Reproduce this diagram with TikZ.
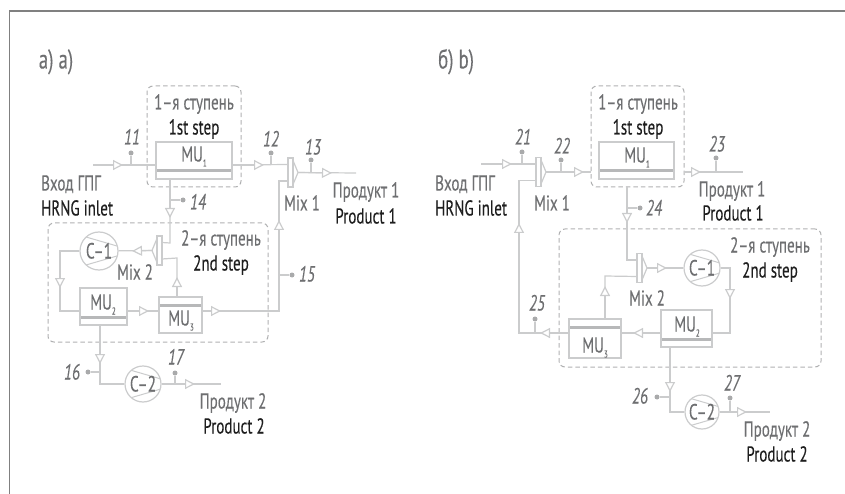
\documentclass[tikz,border=0pt]{standalone}
\usepackage{fontspec}
\setmainfont{PT Sans}[FakeStretch=0.7, FakeBold=0.15]
\usepackage{xcolor}
\usetikzlibrary{arrows.meta, positioning, calc}
\definecolor{pipegray}{HTML}{CBCCCD}
\definecolor{bargray}{HTML}{B7B8B9}
\definecolor{dotgray}{HTML}{A9AAAB}
\definecolor{dashgray}{HTML}{B0B1B2}
\definecolor{textgray}{HTML}{6E6F71}
\definecolor{textdark}{HTML}{1E1E1E}
\newcommand{\musub}[1]{MU\raisebox{-5pt}{\fontsize{10}{10}\selectfont #1}}
\tikzset{
  pipe/.style={draw=pipegray, line width=1.2pt},
  flow/.style={draw=pipegray, line width=1.2pt, -{Triangle[open, fill=white, length=10pt, width=10pt]}},
  stepbox/.style={draw=dashgray, dash pattern=on 4.5pt off 3pt, line width=1pt, rounded corners=6pt, inner sep=0pt},
  mubox/.style={draw=pipegray, fill=white, line width=1.2pt, inner sep=0pt},
  barlow/.style={mubox, path picture={\fill[bargray] ([yshift=6.5pt]path picture bounding box.south west) rectangle ([yshift=9.5pt]path picture bounding box.south east);}},
  barhigh/.style={mubox, path picture={\fill[bargray] ([yshift=-6.5pt]path picture bounding box.north west) rectangle ([yshift=-9.5pt]path picture bounding box.north east);}},
  compr/.style={circle, draw=pipegray, fill=white, line width=1.2pt, minimum size=#1, inner sep=0pt, text=textgray,
    font=\fontsize{22}{24}\selectfont, text height=15pt, text depth=0pt,
    path picture={
      \draw[pipegray, line width=1pt] ($(path picture bounding box.center)+(-13pt,14pt)$) -- ($(path picture bounding box.center)+(18pt,5pt)$);
      \draw[pipegray, line width=1pt] ($(path picture bounding box.center)+(-13pt,-14pt)$) -- ($(path picture bounding box.center)+(18pt,-5pt)$);}},
  probe/.style={circle, fill=dotgray, inner sep=0pt, minimum size=5pt},
  ru/.style={text=textgray, inner sep=0pt, text height=15pt, text depth=0pt, font=\fontsize{21.5}{24}\selectfont},
  en/.style={text=textdark, inner sep=0pt, text height=15pt, text depth=0pt, font=\fontsize{21.5}{24}\selectfont},
  num/.style={text=textgray, inner sep=0pt, text height=15pt, text depth=0pt, font=\fontsize{22}{24}\selectfont\itshape},
  mix/.pic={
    \draw[pipegray, fill=white, line width=1.2pt] (5,-12) -- (10,0) -- (5,12) -- cycle;
    \draw[pipegray, fill=white, line width=1.2pt] (0,-14.5) rectangle (5,14.5);
    \coordinate (-in1) at (0,-8);
    \coordinate (-in2) at (0,8.5);
    \coordinate (-out) at (10,0);
  },
}
\begin{document}
\begin{tikzpicture}[x=1pt, y=-1pt]
\useasboundingbox (0,0) rectangle (845,494);
\draw[gray, line width=1.5pt] (9.5,494) -- (9.5,11) -- (845,11);

% scheme a
\node[ru, font=\fontsize{27}{30}\selectfont, text height=19pt] (titlea) at (56,59) {а) a)};
\node[stepbox, minimum width=94pt, minimum height=101pt] (stepa1) at (194,136.5) {};
\node[stepbox, minimum width=220pt, minimum height=119pt] (stepa2) at (158,282.5) {};
\node[ru] (stepa1ru) at (194,102) {1–я ступень};
\node[en] (stepa1en) at (194,127) {1st step};
\node[ru] (stepa2ru) at (221,238) {2–я ступень};
\node[en] (stepa2en) at (221,263) {2nd step};

\coordinate (ina) at (93,165);
\coordinate (outa1) at (356,173);
\coordinate (turna14) at (170,243);
\coordinate (turna15) at (279,311);
\coordinate (turnamu3) at (177,258);
\coordinate (turna1) at (60,251);
\coordinate (turna2) at (60,311);
\coordinate (turna16) at (100,384);
\coordinate (outa2) at (221,384);
\coordinate (tipa1) at (123,165);
\coordinate (tipa2) at (264,165);
\coordinate (tipa3) at (332,173);
\coordinate (tipa4) at (170,218);
\coordinate (tipa5) at (132,251);
\coordinate (tipa6) at (60,288);
\coordinate (tipa7) at (149,311);
\coordinate (tipa8) at (177,277);
\coordinate (tipa9) at (221,311);
\coordinate (tipa10) at (279,220);
\coordinate (tipa11) at (100,364);
\coordinate (tipa12) at (195,384);

\node[barlow, minimum width=76pt, minimum height=37pt] (mua1) at (194,160.5) {};
\node[barlow, minimum width=47pt, minimum height=37pt] (mua2) at (103.5,306.5) {};
\node[barhigh, minimum width=43pt, minimum height=36pt] (mua3) at (180.5,315) {};
\node[ru] (mua1t) at (194,154) {\musub{1}};
\node[ru] (mua2t) at (103,302) {\musub{2}};
\node[ru] (mua3t) at (181,318) {\musub{3}};
\pic (mixa1) at (288,172.5) {mix};
\pic[xscale=-1] (mixa2) at (162,250.5) {mix};
\node[compr=38pt] (ca1) at (99,251) {C–1};
\node[compr=36pt] (ca2) at (143,384) {C–2};

\draw[pipe] (ina) -- (ina -| mua1.west);
\draw[pipe] (ina -| mua1.east) -- (mixa1-in1);
\draw[pipe] (mixa1-out) -- (outa1);
\draw[pipe] (mua1.south -| turna14) -- (turna14) -- (mixa2-in1);
\draw[pipe] (mua3.north -| turnamu3) -- (turnamu3) -- (mixa2-in2);
\draw[pipe] (mixa2-out) -- (ca1);
\draw[pipe] (ca1) -- (turna1) -- (turna2) -- (turna2 -| mua2.west);
\draw[pipe] (turna2 -| mua2.east) -- (turna2 -| mua3.west);
\draw[pipe] (turna2 -| mua3.east) -- (turna15) -- (mixa1-in2 -| turna15) -- (mixa1-in2);
\draw[pipe] (mua2.south -| turna16) -- (turna16) -- (ca2);
\draw[pipe] (ca2) -- (outa2);

% probes: name / x on pipe / y on pipe / x of dot / y of dot / x of number / y of number
\foreach \n/\xa/\ya/\xb/\yb/\xc/\yc in {11/131/165/131/153/132/137, 12/271/165/271/153/271/139, 13/311/173/311/160/313/147, 14/170/200/183/200/198/202, 15/279/275/292/275/307/274, 16/100/372/88/372/72/372, 17/175/384/175/373/176/357}{
  \coordinate (j\n) at (\xa,\ya);
  \node[probe] (p\n) at (\xb,\yb) {};
  \draw[pipe] (j\n) -- (p\n);
  \node[num] (n\n) at (\xc,\yc) {\n};
}

\draw[flow] (ina) -- (tipa1);
\draw[flow] (ina -| mua1.east) -- (tipa2);
\draw[flow] (mixa1-out) -- (tipa3);
\draw[flow] (mua1.south -| turna14) -- (tipa4);
\draw[flow] (mixa2-out) -- (tipa5);
\draw[flow] (turna1) -- (tipa6);
\draw[flow] (turna2 -| mua2.east) -- (tipa7);
\draw[flow] (mua3.north -| turnamu3) -- (tipa8);
\draw[flow] (turna2 -| mua3.east) -- (tipa9);
\draw[flow] (turna15) -- (tipa10);
\draw[flow] (mua2.south -| turna16) -- (tipa11);
\draw[flow] (ca2) -- (tipa12);

\node[ru, anchor=west] (ina1) at (41,183) {Вход ГПГ};
\node[en, anchor=west] (ina2) at (41,208) {HRNG inlet};
\node[ru] (proda1) at (366,190) {Продукт 1};
\node[en] (proda1en) at (366,216) {Product 1};
\node[ru] (proda2) at (233,401) {Продукт 2};
\node[en] (proda2en) at (234,426) {Product 2};
\node[ru] (mixa1t) at (302,203) {Mix 1};
\node[ru] (mixa2t) at (135,272) {Mix 2};

% scheme b
\node[ru, font=\fontsize{27}{30}\selectfont, text height=19pt] (titleb) at (456,59) {б) b)};
\node[stepbox, minimum width=93pt, minimum height=101pt] (stepb1) at (637.5,136.5) {};
\node[stepbox, minimum width=262pt, minimum height=138pt] (stepb2) at (690,298) {};
\node[ru] (stepb1ru) at (638,102) {1–я ступень};
\node[en] (stepb1en) at (638,127) {1st step};
\node[ru] (stepb2ru) at (770,245) {2–я ступень};
\node[en] (stepb2en) at (770,270) {2nd step};

\coordinate (inb) at (481,164);
\coordinate (outb1) at (743,172);
\coordinate (turnb25) at (519,333);
\coordinate (turnb24) at (627,260);
\coordinate (turnbmu3) at (605,276);
\coordinate (turnb1) at (730,268);
\coordinate (turnb2) at (730,333);
\coordinate (turnb26) at (670,412);
\coordinate (outb2) at (770,412);
\coordinate (tipb1) at (512,164);
\coordinate (tipb2) at (584,172);
\coordinate (tipb3) at (701,172);
\coordinate (tipb4) at (627,223);
\coordinate (tipb5) at (667,268);
\coordinate (tipb6) at (730,299);
\coordinate (tipb7) at (633,333);
\coordinate (tipb8) at (605,286);
\coordinate (tipb9) at (540,333);
\coordinate (tipb10) at (519,223);
\coordinate (tipb11) at (670,392);
\coordinate (tipb12) at (747,412);

\node[barlow, minimum width=75pt, minimum height=37pt] (mub1) at (636.5,160.5) {};
\node[barlow, minimum width=51pt, minimum height=37pt] (mub2) at (686.5,328.5) {};
\node[barhigh, minimum width=52pt, minimum height=39pt] (mub3) at (595,338.5) {};
\node[ru] (mub1t) at (637,155) {\musub{1}};
\node[ru] (mub2t) at (687,324) {\musub{2}};
\node[ru] (mub3t) at (595,345) {\musub{3}};
\pic (mixb1) at (536,172) {mix};
\pic (mixb2) at (637,268) {mix};
\node[compr=36pt] (cb1) at (702,268) {C–1};
\node[compr=34pt] (cb2) at (702,412) {C–2};

\draw[pipe] (inb) -- (mixb1-in1);
\draw[pipe] (mixb1-out) -- (mixb1-out -| stepb1.west);
\draw[pipe] (outb1 -| stepb1.east) -- (outb1);
\draw[pipe] (stepb1.south -| turnb24) -- (turnb24) -- (mixb2-in1);
\draw[pipe] (mub3.north -| turnbmu3) -- (turnbmu3) -- (mixb2-in2);
\draw[pipe] (mixb2-out) -- (cb1);
\draw[pipe] (cb1) -- (turnb1) -- (turnb2) -- (turnb2 -| mub2.east);
\draw[pipe] (turnb2 -| mub2.west) -- (turnb2 -| mub3.east);
\draw[pipe] (turnb2 -| mub3.west) -- (turnb25) -- (mixb1-in2 -| turnb25) -- (mixb1-in2);
\draw[pipe] (mub2.south -| turnb26) -- (turnb26) -- (cb2);
\draw[pipe] (cb2) -- (outb2);

% probes
\foreach \n/\xa/\ya/\xb/\yb/\xc/\yc in {21/522/164/522/152/523/137, 22/561/172/561/160/562/146, 23/716/172/716/158/717/144, 24/627/208/640/208/654/208, 25/535/333/535/319/537/303, 26/670/397/657/397/640/396, 27/730/412/730/398/732/383}{
  \coordinate (j\n) at (\xa,\ya);
  \node[probe] (p\n) at (\xb,\yb) {};
  \draw[pipe] (j\n) -- (p\n);
  \node[num] (n\n) at (\xc,\yc) {\n};
}

\draw[flow] (inb) -- (tipb1);
\draw[flow] (mixb1-out) -- (tipb2);
\draw[flow] (outb1 -| stepb1.east) -- (tipb3);
\draw[flow] (stepb1.south -| turnb24) -- (tipb4);
\draw[flow] (mixb2-out) -- (tipb5);
\draw[flow] (turnb1) -- (tipb6);
\draw[flow] (turnb2 -| mub2.west) -- (tipb7);
\draw[flow] (mub3.north -| turnbmu3) -- (tipb8);
\draw[flow] (turnb2 -| mub3.west) -- (tipb9);
\draw[flow] (turnb25) -- (tipb10);
\draw[flow] (mub2.south -| turnb26) -- (tipb11);
\draw[flow] (cb2) -- (tipb12);

\node[ru, anchor=west] (inb1) at (435,183) {Вход ГПГ};
\node[en, anchor=west] (inb2) at (435,208) {HRNG inlet};
\node[ru] (prodb1) at (732,189) {Продукт 1};
\node[en] (prodb1en) at (733,213) {Product 1};
\node[ru] (prodb2) at (777,429) {Продукт 2};
\node[en] (prodb2en) at (777,454) {Product 2};
\node[ru] (mixb1t) at (552,203) {Mix 1};
\node[ru] (mixb2t) at (647,298) {Mix 2};
\end{tikzpicture}
\end{document}
